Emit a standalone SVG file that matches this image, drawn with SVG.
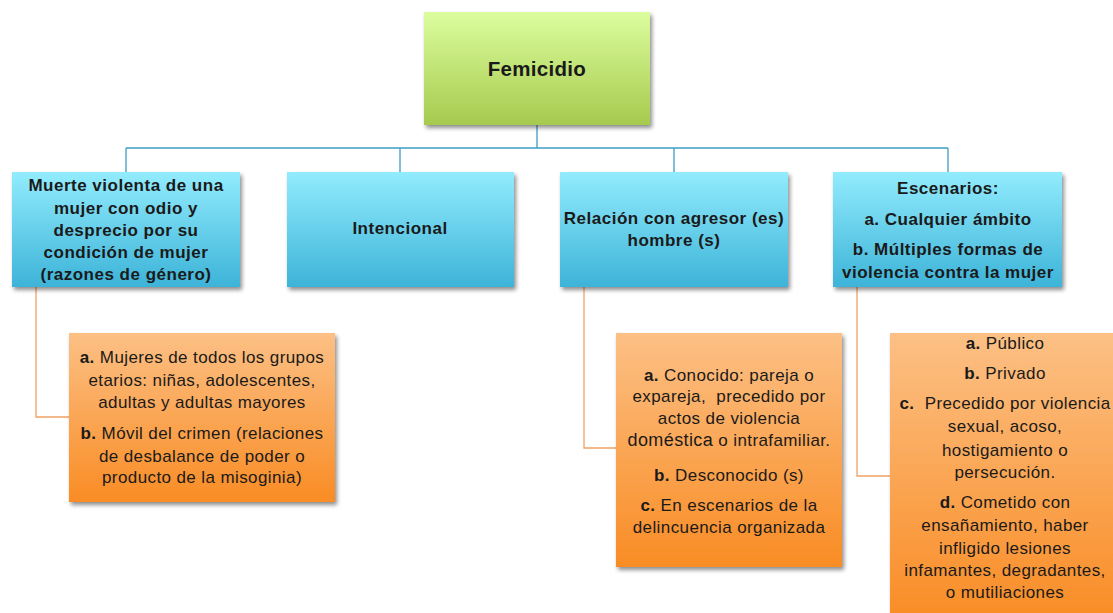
<svg xmlns="http://www.w3.org/2000/svg" width="1113" height="613" viewBox="0 0 1113 613">
<defs>
<linearGradient id="gGreen" x1="0" y1="0" x2="0" y2="1"><stop offset="0" stop-color="#dcfd9e"/><stop offset="1" stop-color="#a6ca4e"/></linearGradient>
<linearGradient id="gBlue" x1="0" y1="0" x2="0" y2="1"><stop offset="0" stop-color="#92ecfd"/><stop offset="1" stop-color="#3db3d8"/></linearGradient>
<linearGradient id="gOrange" x1="0" y1="0" x2="0" y2="1"><stop offset="0" stop-color="#fcc085"/><stop offset="1" stop-color="#f98c24"/></linearGradient>
<filter id="sh" x="-10%" y="-10%" width="130%" height="130%"><feGaussianBlur in="SourceAlpha" stdDeviation="2"/><feOffset dx="2" dy="3"/><feComponentTransfer><feFuncA type="linear" slope="0.45"/></feComponentTransfer><feMerge><feMergeNode/><feMergeNode in="SourceGraphic"/></feMerge></filter>
</defs>
<style>
text{font-family:"Liberation Sans",Arial,sans-serif;fill:#1a1a1a;text-anchor:middle}
.b{font-weight:bold;font-size:17px;letter-spacing:0.5px}
.r{font-size:17px;letter-spacing:0.4px}
.rb{font-weight:bold}
.blue{fill:none;stroke:#3c9fc2;stroke-width:1.3}
.org{fill:none;stroke:#f0a264;stroke-width:1.3}
</style>
<rect width="1113" height="613" fill="#ffffff"/>
<g id="connectors">
<path class="blue" d="M537 125V148M126 148H948M126 148V172M400 148V172M674 148V172M948 148V172"/>
<path class="org" d="M36 287V417H69M584 287V448H616M857 287V476H890"/>
</g>
<g id="femicidio">
<rect x="424" y="12" width="226" height="113" fill="url(#gGreen)" filter="url(#sh)"/>
<text x="537" y="76" class="b" style="font-size:20.5px;letter-spacing:0.3px">Femicidio</text>
</g>
<g id="muerte">
<rect x="12" y="172" width="228" height="115" fill="url(#gBlue)" filter="url(#sh)"/>
<text class="b"><tspan x="126" y="191">Muerte violenta de una</tspan><tspan x="126" y="214">mujer con odio y</tspan><tspan x="126" y="236">desprecio por su</tspan><tspan x="126" y="258">condición de mujer</tspan><tspan x="126" y="280">(razones de género)</tspan></text>
</g>
<g id="intencional">
<rect x="287" y="172" width="227" height="115" fill="url(#gBlue)" filter="url(#sh)"/>
<text x="400" y="234" class="b">Intencional</text>
</g>
<g id="relacion">
<rect x="560" y="172" width="228" height="115" fill="url(#gBlue)" filter="url(#sh)"/>
<text class="b"><tspan x="674" y="224">Relación con agresor (es)</tspan><tspan x="674" y="246">hombre (s)</tspan></text>
</g>
<g id="escenarios">
<rect x="833" y="172" width="229" height="115" fill="url(#gBlue)" filter="url(#sh)"/>
<text class="b"><tspan x="948" y="194">Escenarios:</tspan><tspan x="948" y="225">a. Cualquier ámbito</tspan><tspan x="948" y="255">b. Múltiples formas de</tspan><tspan x="948" y="278">violencia contra la mujer</tspan></text>
</g>
<g id="detalleMuerte">
<rect x="69" y="333" width="266" height="169" fill="url(#gOrange)" filter="url(#sh)"/>
<text class="r"><tspan x="202" y="363"><tspan class="rb">a.</tspan> Mujeres de todos los grupos</tspan><tspan x="202" y="386">etarios: niñas, adolescentes,</tspan><tspan x="202" y="408">adultas y adultas mayores</tspan><tspan x="202" y="439"><tspan class="rb">b.</tspan> Móvil del crimen (relaciones</tspan><tspan x="202" y="462">de desbalance de poder o</tspan><tspan x="202" y="483">producto de la misoginia)</tspan></text>
</g>
<g id="detalleRelacion">
<rect x="616" y="333" width="226" height="234" fill="url(#gOrange)" filter="url(#sh)"/>
<text class="r"><tspan x="729" y="381"><tspan class="rb">a.</tspan> Conocido: pareja o</tspan><tspan x="729" y="402">expareja,&#160; precedido por</tspan><tspan x="729" y="424">actos de violencia</tspan><tspan x="729" y="446"><tspan style="font-size:18px">doméstica</tspan> o intrafamiliar.</tspan><tspan x="729" y="481"><tspan class="rb">b.</tspan> Desconocido (s)</tspan><tspan x="729" y="511"><tspan class="rb">c.</tspan> En escenarios de la</tspan><tspan x="729" y="533">delincuencia organizada</tspan></text>
</g>
<g id="detalleEscenarios">
<rect x="890" y="333" width="230" height="290" fill="url(#gOrange)" filter="url(#sh)"/>
<text class="r"><tspan x="1005" y="349"><tspan class="rb">a.</tspan> Público</tspan><tspan x="1005" y="379"><tspan class="rb">b.</tspan> Privado</tspan><tspan x="1005" y="409"><tspan class="rb">c.</tspan>&#160; Precedido por violencia</tspan><tspan x="1005" y="432">sexual, acoso,</tspan><tspan x="1005" y="456">hostigamiento o</tspan><tspan x="1005" y="478">persecución.</tspan><tspan x="1005" y="508"><tspan class="rb">d.</tspan> Cometido con</tspan><tspan x="1005" y="531">ensañamiento, haber</tspan><tspan x="1005" y="554">infligido lesiones</tspan><tspan x="1005" y="576">infamantes, degradantes,</tspan><tspan x="1005" y="598">o mutiliaciones</tspan></text>
</g>
</svg>
